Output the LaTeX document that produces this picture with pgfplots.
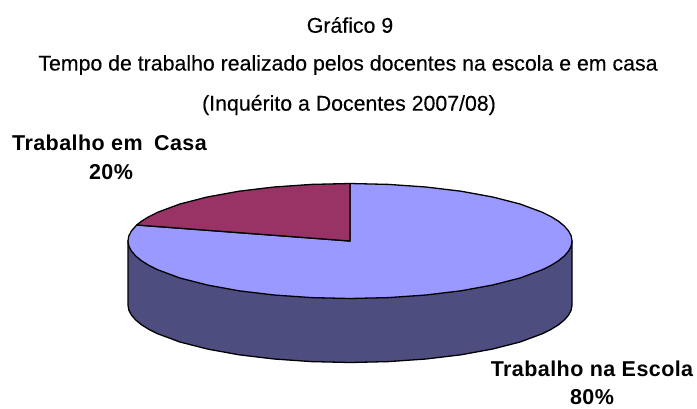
\documentclass[border=0pt]{standalone}
\usepackage{fontspec}
\setmainfont{Liberation Sans}
\newfontfamily\titf[FakeBold=0.25]{Liberation Sans}
\newfontfamily\labf[LetterSpace=2]{Liberation Sans}
\usepackage{pgfplots}
\pgfplotsset{compat=1.18}
\definecolor{escola}{HTML}{9999FF}
\definecolor{casa}{HTML}{993366}
\definecolor{lado}{HTML}{4D4D80}
\newcommand{\tit}{\titf\fontsize{21.3}{24}\selectfont}
\newcommand{\lab}{\labf\fontsize{21.5}{24}\selectfont\bfseries}
\begin{document}
\begin{tikzpicture}
\useasboundingbox (0,0) rectangle (697pt,408pt);
\begin{axis}[
    at={(0,0)}, anchor=south west,
    width=697pt, height=408pt,
    scale only axis,
    hide axis,
    xmin=0, xmax=697,
    ymin=0, ymax=408,
    y dir=reverse,
    clip=false,
]
% Pie 80% escola / 20% casa, coordinates in reference pixels
% side wall
\addplot[fill=lado, draw=black, line width=1.3pt, line join=round] coordinates {
    (572,241)(572,305)(571.2,310)(568.6,315)(564.4,319.9)(558.6,324.7)(551.2,329.3)(542.3,333.75)
    (520.1,342)(492.7,349)(461,354.8)(425.9,359)(388.5,361.6)(350,362.5)
    (311.5,361.6)(274.1,359)(239,354.8)(207.3,349)(179.9,342)(157.7,333.75)
    (148.8,329.3)(141.4,324.7)(135.6,319.9)(131.4,315)(128.8,310)(128,305)(128,241)
} -- cycle;
% top, Trabalho na Escola (80%)
\addplot[fill=escola, draw=black, line width=1.3pt, line join=round] coordinates {
    (350,241)(350,183.5)(388.5,184.4)(425.9,187)(461,191.2)(492.7,197)(520.1,204)(542.3,212.25)
    (551.2,216.7)(558.6,221.3)(564.4,226.1)(568.6,231)(571.2,236)(572,241)
    (571.2,246)(568.6,251)(564.4,255.9)(558.6,260.7)(551.2,265.3)(542.3,269.75)
    (520.1,278)(492.7,285)(461,290.8)(425.9,295)(388.5,297.6)(350,298.5)
    (311.5,297.6)(274.1,295)(239,290.8)(207.3,285)(179.9,278)(157.7,269.75)
    (148.8,265.3)(141.4,260.7)(135.6,255.9)(131.4,251)(128.8,246)(128,241)
    (128.8,236)(131.4,231)(136.7,225)
} -- cycle;
% top, Trabalho em Casa (20%)
\addplot[fill=casa, draw=black, line width=1.3pt, line join=round] coordinates {
    (350,241)(136.7,225)(141.4,221.3)(148.8,216.7)(157.7,212.25)(179.9,204)(207.3,197)
    (239,191.2)(274.1,187)(311.5,184.4)(350,183.5)
} -- cycle;
\node at (axis cs:350,25) {\tit Gráfico 9};
\node at (axis cs:348,65) {\tit Tempo de trabalho realizado pelos docentes na escola e em casa};
\node at (axis cs:349,105) {\tit (Inquérito a Docentes 2007/08)};
\node at (axis cs:109.5,143) {\lab Trabalho em\hspace{5pt} Casa};
\node at (axis cs:111,172) {\lab 20\%};
\node at (axis cs:592,369) {\lab Trabalho na Escola};
\node[inner sep=0pt] at (axis cs:592,397) {\lab 80\%};
\end{axis}
\end{tikzpicture}
\end{document}
